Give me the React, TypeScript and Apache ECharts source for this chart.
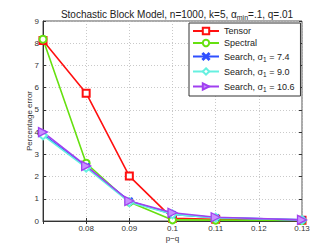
import React, { useEffect, useRef } from "react";
import * as echarts from "echarts";

const xValues = [0.07, 0.08, 0.09, 0.1, 0.11, 0.13];
const tensor = [8.12, 5.75, 2.02, 0.12, 0.08, 0.03];
const spectral = [8.18, 2.6, 0.85, 0.05, 0.04, 0.02];
const search74 = [3.9, 2.45, 0.9, 0.3, 0.15, 0.05];
const search90 = [3.85, 2.4, 0.85, 0.3, 0.15, 0.05];
const search106 = [4.0, 2.48, 0.9, 0.37, 0.17, 0.05];
const seriesNames = ["Tensor", "Spectral", "Search, σ1 = 7.4", "Search, σ1 = 9.0", "Search, σ1 = 10.6"];
const legendLabels = ["Tensor", "Spectral", "Search, σ{sub|1} = 7.4", "Search, σ{sub|1} = 9.0", "Search, σ{sub|1} = 10.6"];

const FONT = "Liberation Sans, Arial, sans-serif";

export default function App() {
  const ref = useRef<HTMLDivElement>(null);
  useEffect(() => {
    if (!ref.current) return;
    const chart = echarts.init(ref.current, undefined, { renderer: "svg" });
    const pair = (ys: number[]) => xValues.map((x, i) => [x, ys[i]]);
    const xPath = "path://M0,1L1,0L5,4L9,0L10,1L6,5L10,9L9,10L5,6L1,10L0,9L4,5Z";
    const triPath = "path://M0,0L10,5L0,10Z";
    const mk = (name: string, data: number[], color: string, symbol: string, size: number, fill?: string) => ({
      name,
      type: "line",
      data: pair(data),
      symbol,
      symbolSize: size,
      showAllSymbol: true,
      lineStyle: { color, width: 1.6 },
      itemStyle: { color: fill ?? color, borderColor: color, borderWidth: 1.3 },
      emphasis: { disabled: true },
    });
    chart.setOption({
      animation: false,
      textStyle: { fontFamily: FONT },
      title: {
        text: "Stochastic Block Model, n=1000, k=5, α{sub|min}=.1, q=.01",
        left: 172,
        textAlign: "center",
        top: 3,
        textStyle: {
          fontSize: 10,
          fontWeight: "normal",
          color: "#222",
          fontFamily: FONT,
          rich: { sub: { fontSize: 7, padding: [6, 0, 0, 0], color: "#222", fontFamily: FONT } },
        },
      },
      grid: { left: 43, top: 21, right: 30, bottom: 28, show: true, borderColor: "#555", borderWidth: 1 },
      legend: {
        orient: "vertical",
        left: 189,
        top: 23,
        itemWidth: 26,
        itemHeight: 8,
        itemGap: 2,
        padding: [3, 6, 3, 3],
        backgroundColor: "#fff",
        borderColor: "#333",
        borderWidth: 1,
        data: seriesNames,
        formatter: (n: string) => legendLabels[seriesNames.indexOf(n)],
        textStyle: {
          fontSize: 9,
          lineHeight: 10,
          color: "#222",
          fontFamily: FONT,
          rich: { sub: { fontSize: 6.5, lineHeight: 8, padding: [6, 0, 0, 0], color: "#222", fontFamily: FONT } },
        },
      },
      xAxis: [
        {
          type: "value",
          min: 0.07,
          max: 0.13,
          interval: 0.01,
          name: "p−q",
          nameLocation: "middle",
          nameGap: 13,
          nameMoveOverlap: false,
          nameTextStyle: { fontSize: 8, color: "#333" },
          axisLine: { show: true, lineStyle: { color: "#333" } },
          axisTick: { inside: true, length: 3, lineStyle: { color: "#333" } },
          axisLabel: {
            fontSize: 8,
            color: "#333",
            margin: 3,
            formatter: (v: number) => (Math.abs(v - 0.07) < 1e-6 ? "" : String(parseFloat(v.toFixed(2)))),
          },
          splitLine: { show: true, lineStyle: { color: "#bbb", type: [1, 2], width: 0.8 } },
        },
        {
          type: "value",
          position: "top",
          min: 0.07,
          max: 0.13,
          interval: 0.01,
          axisLine: { show: false },
          axisTick: { inside: true, length: 3, lineStyle: { color: "#333" } },
          axisLabel: { show: false },
          splitLine: { show: false },
        },
      ],
      yAxis: [
        {
          type: "value",
          min: 0,
          max: 9,
          interval: 1,
          name: "Percentage error",
          nameLocation: "middle",
          nameRotate: 90,
          nameGap: 10,
          nameMoveOverlap: false,
          nameTextStyle: { fontSize: 8, color: "#333" },
          axisLine: { show: true, lineStyle: { color: "#333" } },
          axisTick: { show: true, inside: true, length: 3, lineStyle: { color: "#333" } },
          axisLabel: { fontSize: 8, color: "#333", margin: 4 },
          splitLine: { show: true, lineStyle: { color: "#bbb", type: [1, 2], width: 0.8 } },
        },
        {
          type: "value",
          position: "right",
          min: 0,
          max: 9,
          interval: 1,
          axisLine: { show: false },
          axisTick: { show: true, inside: true, length: 3, lineStyle: { color: "#333" } },
          axisLabel: { show: false },
          splitLine: { show: false },
        },
      ],
      series: [
        mk(seriesNames[0], tensor, "#ff1010", "emptyRect", 7),
        mk(seriesNames[1], spectral, "#66e010", "emptyCircle", 7),
        mk(seriesNames[2], search74, "#2f4fff", xPath, 6),
        mk(seriesNames[3], search90, "#66f0e0", "emptyDiamond", 8),
        mk(seriesNames[4], search106, "#a040f0", triPath, 9, "#c890ff"),
      ],
    });
    return () => chart.dispose();
  }, []);
  return <div ref={ref} style={{ position: "absolute", left: 0, top: 0, width: 332, height: 249 }} />;
}
